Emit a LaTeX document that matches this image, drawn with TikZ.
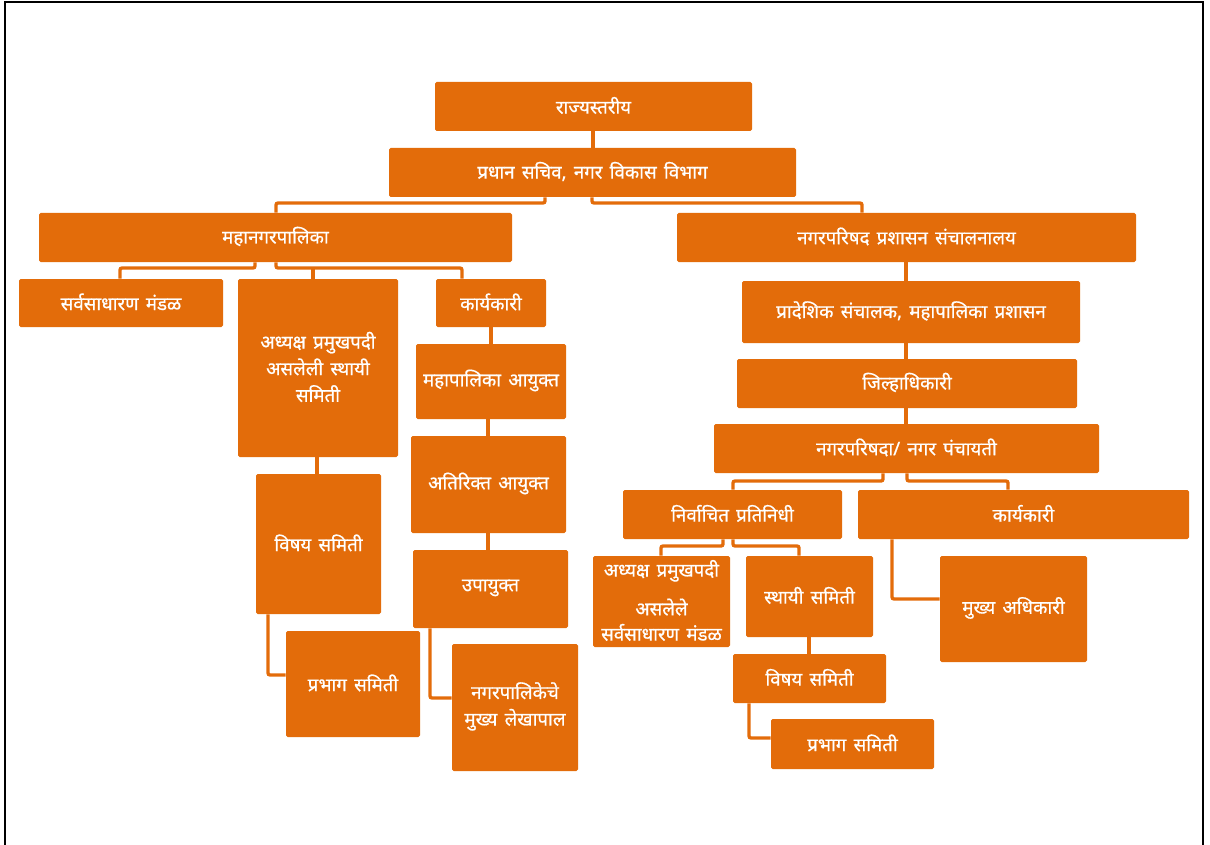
\documentclass[tikz,border=0pt]{standalone}
\usepackage{fontspec}
\setmainfont{Noto Sans}[Script=Devanagari]
\newfontfamily\devf{Noto Sans}[Script=Devanagari,FakeBold=0.7,WordSpace=1.5]
\usetikzlibrary{fit}
\definecolor{org}{HTML}{E36C0A}
\begin{document}
\begin{tikzpicture}[x=0.75pt,y=-0.75pt,
  box/.style={fill=org,rounded corners=1.2pt,inner sep=0pt},
  txt/.style={inner sep=0pt,text=white,align=center,font=\devf\fontsize{14}{20}\selectfont},
  bt/.style={label={[txt,yshift=0.8pt]center:{#1}}},
  conn/.style={draw=org,line width=2.5pt,rounded corners=1.5pt}]
\useasboundingbox (0,0) rectangle (1210,845);
\draw[line width=1.9pt] (5,845) -- (5,2) -- (1203,2) -- (1203,845);
% boxes
\node[box,fit={(435,82)(752,131)},bt={राज्यस्तरीय}] (rs) {};
\node[box,fit={(389,148)(796,197)},bt={प्रधान सचिव, नगर विकास विभाग}] (pr) {};
\node[box,fit={(39,213)(512,262)},bt={महानगरपालिका}] (mnp) {};
\node[box,fit={(677,213)(1136,262)},bt={नगरपरिषद प्रशासन संचालनालय}] (nps) {};
\node[box,fit={(19,279)(223,327)},bt={सर्वसाधारण मंडळ}] (ssm) {};
\node[box,fit={(238,279)(398,457)},bt={अध्यक्ष प्रमुखपदी\\असलेली स्थायी\\समिती}] (adh) {};
\node[box,fit={(436,279)(546,327)},bt={कार्यकारी}] (kk) {};
\node[box,fit={(416,344)(566,419)},bt={महापालिका आयुक्त}] (mpa) {};
\node[box,fit={(411,436)(566,533)},bt={अतिरिक्त आयुक्त}] (ata) {};
\node[box,fit={(413,550)(568,628)},bt={उपायुक्त}] (upa) {};
\node[box,fit={(452,644)(578,771)},bt={नगरपालिकेचे\\मुख्य लेखापाल}] (ngp) {};
\node[box,fit={(256,474)(381,614)},bt={विषय समिती}] (vsl) {};
\node[box,fit={(286,631)(420,737)},bt={प्रभाग समिती}] (pbl) {};
\node[box,fit={(742,281)(1080,343)},bt={प्रादेशिक संचालक, महापालिका प्रशासन}] (pds) {};
\node[box,fit={(737,359)(1077,408)},bt={जिल्हाधिकारी}] (jil) {};
\node[box,fit={(714,424)(1099,473)},bt={नगरपरिषदा/ नगर पंचायती}] (npa) {};
\node[box,fit={(623,490)(842,539)},bt={निर्वाचित प्रतिनिधी}] (nirv) {};
\node[box,fit={(858,490)(1189,539)},bt={कार्यकारी}] (kkr) {};
\node[box,fit={(593,556)(730,647)},bt={अध्यक्ष प्रमुखपदी\\[9pt]असलेले\\[-1pt]सर्वसाधारण मंडळ}] (adhr) {};
\node[box,fit={(746,556)(873,637)},bt={स्थायी समिती}] (sth) {};
\node[box,fit={(733,654)(886,703)},bt={विषय समिती}] (vsr) {};
\node[box,fit={(771,719)(934,769)},bt={प्रभाग समिती}] (pbr) {};
\node[box,fit={(940,556)(1087,662)},bt={मुख्य अधिकारी}] (mk) {};
% connectors
\draw[conn] (rs.south -| 593,0) -- (pr.north -| 593,0);
\draw[conn] (pr.south -| 545,0) -- (545,203) -| (mnp.north -| 276,0);
\draw[conn] (pr.south -| 592,0) -- (592,203) -| (nps.north -| 862,0);
\draw[conn] (mnp.south -| 255,0) -- (255,268) -| (ssm.north -| 120,0);
\draw[conn] (mnp.south -| 276,0) -- (276,268) -| (kk.north -| 462,0);
\draw[conn] (313,268) -- (adh.north -| 313,0);
\draw[conn] (adh.south -| 317,0) -- (vsl.north -| 317,0);
\draw[conn] (vsl.south -| 268,0) |- (pbl.west |- 0,675);
\draw[conn] (kk.south -| 491,0) -- (mpa.north -| 491,0);
\draw[conn] (mpa.south -| 488,0) -- (ata.north -| 488,0);
\draw[conn] (ata.south -| 488,0) -- (upa.north -| 488,0);
\draw[conn] (upa.south -| 430,0) |- (ngp.west |- 0,698);
\draw[conn] (nps.south -| 906,0) -- (pds.north -| 906,0);
\draw[conn] (pds.south -| 906,0) -- (jil.north -| 906,0);
\draw[conn] (jil.south -| 906,0) -- (npa.north -| 906,0);
\draw[conn] (npa.south -| 883,0) -- (883,481) -| (nirv.north -| 733,0);
\draw[conn] (npa.south -| 907,0) -- (907,481) -| (kkr.north -| 1008,0);
\draw[conn] (nirv.south -| 723,0) -- (723,546) -| (adhr.north -| 661,0);
\draw[conn] (nirv.south -| 733,0) -- (733,546) -| (sth.north -| 799,0);
\draw[conn] (sth.south -| 809,0) -- (vsr.north -| 809,0);
\draw[conn] (vsr.south -| 749,0) |- (pbr.west |- 0,738);
\draw[conn] (kkr.south -| 892,0) |- (mk.west |- 0,599);
\end{tikzpicture}
\end{document}
